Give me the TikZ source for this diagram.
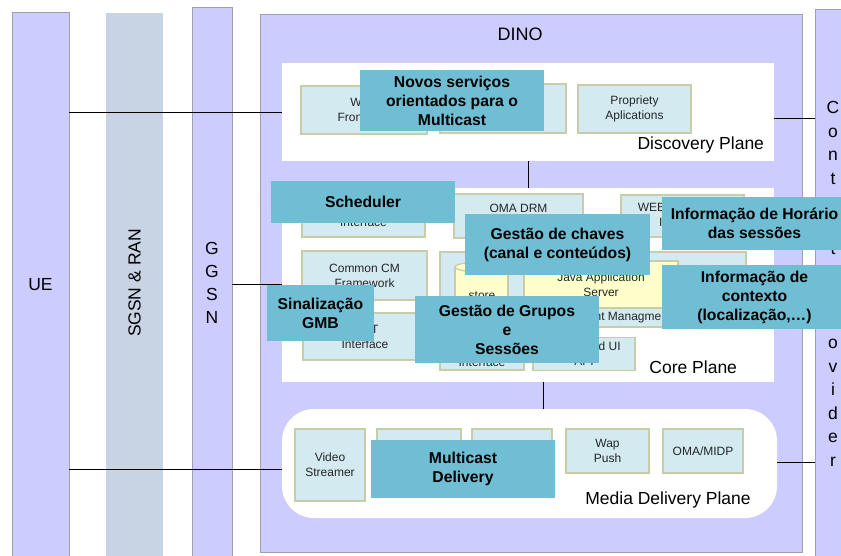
\documentclass[tikz,border=0pt]{standalone}
\usepackage{fontspec}
\setmainfont{Liberation Sans}
\definecolor{lav}{RGB}{204,204,255}
\definecolor{colline}{RGB}{160,160,170}
\definecolor{sgsnc}{RGB}{200,212,228}
\definecolor{boxfill}{RGB}{210,234,240}
\definecolor{boxline}{RGB}{200,204,168}
\definecolor{tealc}{RGB}{111,190,211}
\definecolor{ylw}{RGB}{255,255,204}
\begin{document}
\begin{tikzpicture}[x=1pt,y=-1pt,
  every node/.style={inner sep=0pt,outer sep=0pt},
  col/.style={draw=colline,line width=1pt,fill=lav},
  plane/.style={fill=white,draw=none},
  cbox/.style={fill=boxfill,draw=boxline,line width=1.3pt},
  btxt/.style={font=\fontsize{12}{15}\selectfont,text=black!85,align=center},
  ovl/.style={fill=tealc,align=center,text=black,font=\fontsize{15.7}{19}\selectfont\bfseries},
  big/.style={font=\fontsize{17.5}{21}\selectfont,text=black},
  link/.style={draw=black,line width=1pt}]
\useasboundingbox (0,0) rectangle (841,556);
\clip (0,0) rectangle (841,556);
\fill[white] (0,0) rectangle (841,556);

% side columns
\node[col,minimum width=57pt,minimum height=547pt] (ue) at (40.5,286.5) {};
\node[big] at (40.5,285) {UE};
\node[fill=sgsnc,minimum width=57pt,minimum height=547pt] (sgsn) at (134.5,286.5) {};
\node[big,rotate=90] at (134.5,283) {SGSN \& RAN};
\node[col,minimum width=40pt,minimum height=552pt] (ggsn) at (212,284) {};
\node[big,align=center,font=\fontsize{17.5}{23}\selectfont] at (212,283) {G\\G\\S\\N};
\node[col,minimum width=40pt,minimum height=550pt] (cp) at (835,285) {};
\node[big,align=center,font=\fontsize{17.5}{23.5}\selectfont] at (833,284) {C\\o\\n\\t\\e\\n\\t\\[23.5pt]P\\r\\o\\v\\i\\d\\e\\r};

% DINO platform
\node[col,minimum width=542pt,minimum height=537pt] (dino) at (531,283.5) {};
\node[big,font=\fontsize{18}{21}\selectfont] at (520,34) {DINO};

% discovery plane
\node[plane,minimum width=492pt,minimum height=98pt] (disc) at (528,112) {};
\node[big,anchor=east] at (764,145) {Discovery Plane};
\node[cbox,minimum width=126pt,minimum height=48pt] (web) at (364,110) {};
\node[btxt] at (364,110) {WEB\\Front End};
\node[cbox,minimum width=126pt,minimum height=49pt] (dbox) at (503,108.5) {};
\node[cbox,minimum width=113pt,minimum height=48pt,btxt] (prop) at (634.5,109) {Propriety\\Aplications};

% core plane
\node[plane,minimum width=492pt,minimum height=194pt] (core) at (528,285) {};
\node[big,anchor=east] at (737,367) {Core Plane};
\node[cbox,minimum width=123pt,minimum height=45pt] (sint) at (363.5,214.5) {};
\node[btxt] at (363.5,222) {Interface};
\node[cbox,minimum width=129pt,minimum height=44pt] (drm) at (518.5,216) {};
\node[btxt] at (518.5,208) {OMA DRM};
\node[cbox,minimum width=123pt,minimum height=42pt] (wacc) at (682.5,216) {};
\node[btxt] at (682.5,215) {WEB Application\\Interface};
\node[cbox,minimum width=125pt,minimum height=49pt,btxt] (ccm) at (364.5,275.5) {Common CM\\Framework};
\node[cbox,minimum width=306pt,minimum height=75pt] (cmgmt) at (593,289.5) {};
\node[btxt] at (617,318) {Content Managment};
\node[fill=ylw,draw=boxline,line width=1.3pt,minimum width=154pt,minimum height=47pt,btxt] (jas) at (601,284.5) {Java Application\\Server};
% data store cylinder
\fill[ylw] (455,267) rectangle (508,318);
\draw[boxline,line width=1.3pt] (455,267) -- (455,318) (508,267) -- (508,318);
\draw[boxline,line width=1.3pt,fill=ylw] (481.5,267) ellipse [x radius=26.5pt,y radius=5pt];
\node[btxt] (store) at (482,296) {store};
\node[cbox,minimum width=124pt,minimum height=47pt,btxt] (omt) at (365,336.5) {OMT\\Interface};
\node[cbox,minimum width=84pt,minimum height=33pt] (intf) at (482,353.5) {};
\node[btxt] at (482,362) {Interface};
\node[cbox,minimum width=102pt,minimum height=33pt,btxt] (ui) at (584,354) {Embedded UI\\API};

% media delivery plane
\node[plane,rounded corners=32pt,minimum width=495pt,minimum height=109pt] (media) at (529.5,463.5) {};
\node[big] at (668,500) {Media Delivery Plane};
\node[cbox,minimum width=70pt,minimum height=72pt,btxt] (video) at (330,465) {Video\\Streamer};
\node[cbox,minimum width=84pt,minimum height=44pt] (mb2) at (419,451) {};
\node[cbox,minimum width=80pt,minimum height=44pt] (mb3) at (512,451) {};
\node[cbox,minimum width=83pt,minimum height=44pt,btxt] (wap) at (607.5,451) {Wap\\Push};
\node[cbox,minimum width=80pt,minimum height=44pt,btxt] (midp) at (703,451) {OMA/MIDP};

% connectors
\coordinate (a1) at (0,113);
\coordinate (a2) at (0,469);
\coordinate (a3) at (0,119);
\coordinate (a4) at (0,462);
\coordinate (cm) at (543,0);
\draw[link] (ue.east |- a1) -- (disc.west |- a1);
\draw[link] (ggsn.east |- core.west) -- (core.west);
\draw[link] (ue.east |- a2) -- (media.west |- a2);
\draw[link] (disc.east |- a3) -- (cp.west |- a3);
\draw[link] (media.east |- a4) -- (cp.west |- a4);
\draw[link] (disc.south) -- (core.north);
\draw[link] (cm |- core.south) -- (cm |- media.north);

% highlighted functions
\node[ovl,minimum width=184pt,minimum height=61pt] (novos) at (452,100.5) {Novos serviços\\orientados para o\\Multicast};
\node[ovl,minimum width=184pt,minimum height=42pt] (sched) at (363,202) {Scheduler};
\node[ovl,minimum width=185pt,minimum height=61pt] (chaves) at (557.5,244.5) {Gestão de chaves\\(canal e conteúdos)};
\node[ovl,minimum width=185pt,minimum height=53pt] (horario) at (754.5,223.5) {Informação de Horário\\das sessões};
\node[ovl,minimum width=185pt,minimum height=64pt] (contexto) at (754.5,297) {Informação de\\contexto\\(localização,\dots)};
\node[ovl,minimum width=107pt,minimum height=56pt] (sinal) at (320.5,313) {Sinalização\\GMB};
\node[ovl,minimum width=184pt,minimum height=67pt] (grupos) at (507,329.5) {Gestão de Grupos\\e\\Sessões};
\node[ovl,minimum width=184pt,minimum height=58pt] (mcast) at (463,469) {Multicast\\Delivery};
\end{tikzpicture}
\end{document}
